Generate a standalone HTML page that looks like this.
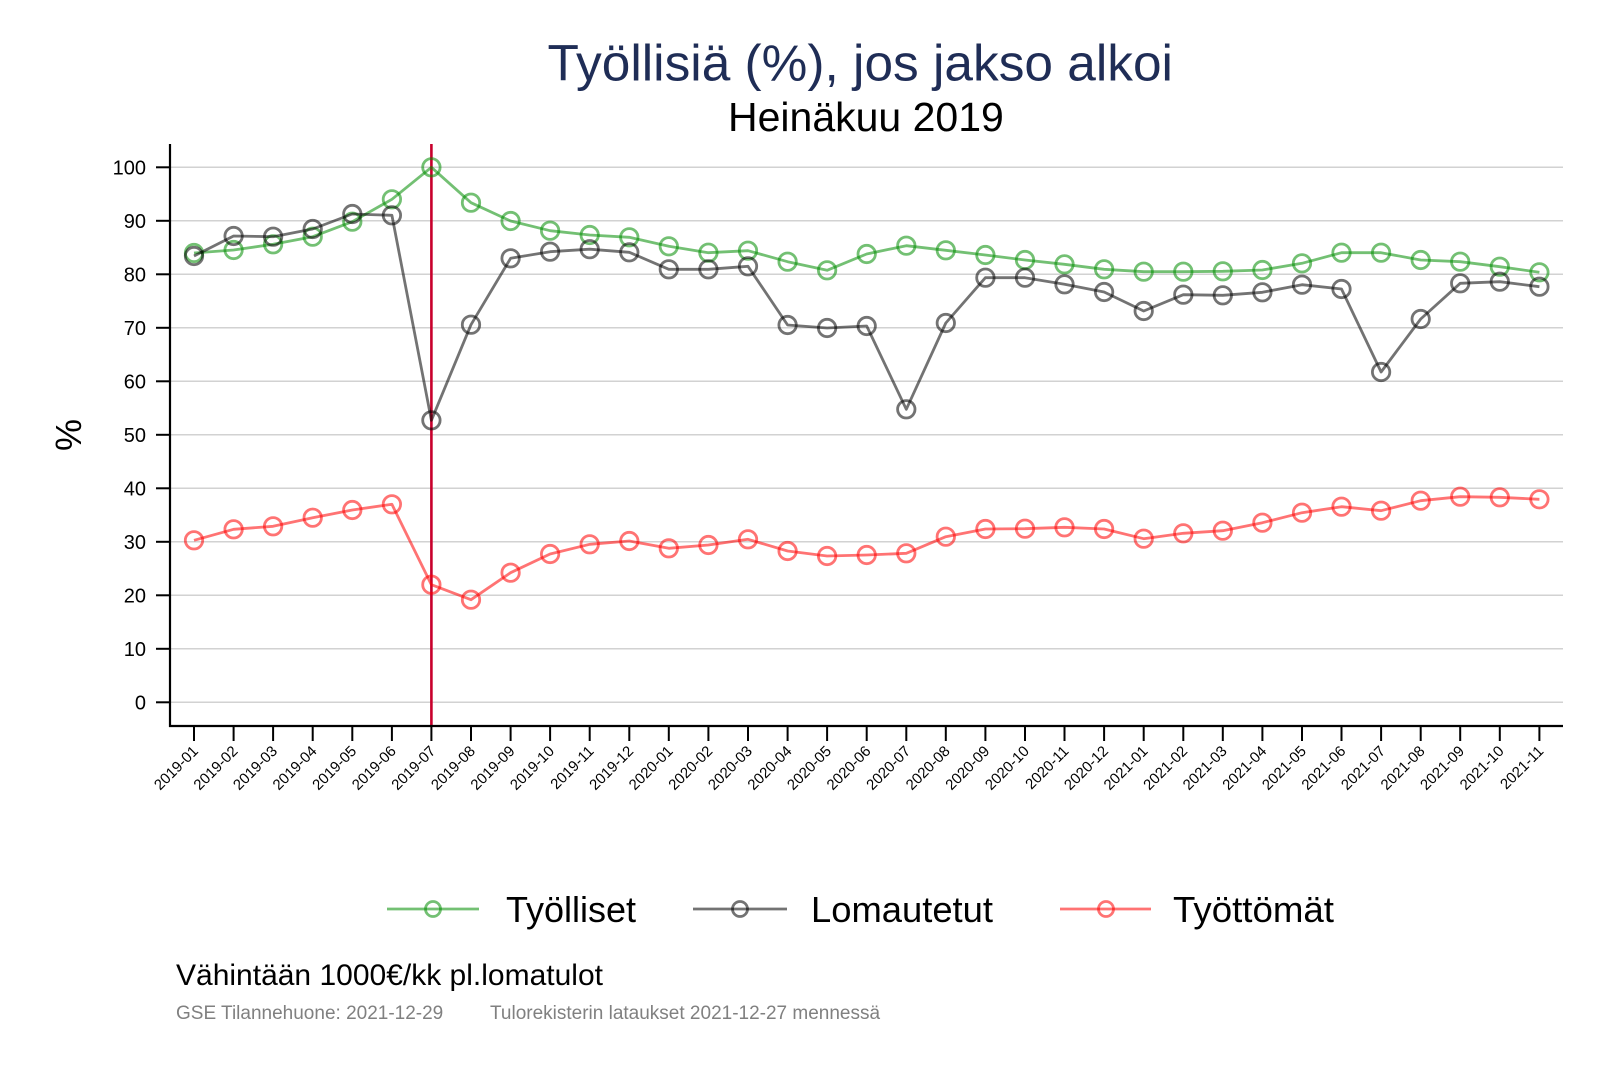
<!DOCTYPE html>
<html><head><meta charset="utf-8"><style>
html,body{margin:0;padding:0;background:#fff;}
svg{display:block;font-family:"Liberation Sans",Arial,sans-serif;}
</style></head><body>
<svg width="1600" height="1067" viewBox="0 0 1600 1067" xmlns="http://www.w3.org/2000/svg">
<rect width="1600" height="1067" fill="#fff"/>
<text x="547.5" y="80.7" font-size="51.4" fill="#1f2d56">Työllisiä (%), jos jakso alkoi</text>
<text x="728" y="131" font-size="41" fill="#000">Heinäkuu 2019</text>
<g stroke="#d2d2d2" stroke-width="1.5">
<line x1="170" x2="1563" y1="702.3" y2="702.3"/><line x1="170" x2="1563" y1="648.8" y2="648.8"/><line x1="170" x2="1563" y1="595.3" y2="595.3"/><line x1="170" x2="1563" y1="541.8" y2="541.8"/><line x1="170" x2="1563" y1="488.3" y2="488.3"/><line x1="170" x2="1563" y1="434.8" y2="434.8"/><line x1="170" x2="1563" y1="381.3" y2="381.3"/><line x1="170" x2="1563" y1="327.8" y2="327.8"/><line x1="170" x2="1563" y1="274.3" y2="274.3"/><line x1="170" x2="1563" y1="220.8" y2="220.8"/><line x1="170" x2="1563" y1="167.3" y2="167.3"/>
</g>
<g stroke="#000" stroke-width="2">
<line x1="156" x2="170" y1="702.3" y2="702.3"/><line x1="156" x2="170" y1="648.8" y2="648.8"/><line x1="156" x2="170" y1="595.3" y2="595.3"/><line x1="156" x2="170" y1="541.8" y2="541.8"/><line x1="156" x2="170" y1="488.3" y2="488.3"/><line x1="156" x2="170" y1="434.8" y2="434.8"/><line x1="156" x2="170" y1="381.3" y2="381.3"/><line x1="156" x2="170" y1="327.8" y2="327.8"/><line x1="156" x2="170" y1="274.3" y2="274.3"/><line x1="156" x2="170" y1="220.8" y2="220.8"/><line x1="156" x2="170" y1="167.3" y2="167.3"/>
</g>
<g font-size="20" text-anchor="end" fill="#000">
<text x="146" y="709.5">0</text><text x="146" y="656">10</text><text x="146" y="602.5">20</text><text x="146" y="549">30</text><text x="146" y="495.5">40</text><text x="146" y="442">50</text><text x="146" y="388.5">60</text><text x="146" y="335">70</text><text x="146" y="281.5">80</text><text x="146" y="228">90</text><text x="146" y="174.5">100</text>
</g>
<text transform="translate(81,435) rotate(-90)" font-size="36" text-anchor="middle" fill="#000">%</text>
<line x1="431.4" x2="431.4" y1="144" y2="726" stroke="#c8002c" stroke-width="2.6"/>
<!-- series -->
<g fill="none" stroke-width="2.8" stroke-linejoin="round">
<g stroke="rgb(0,140,0)" stroke-opacity="0.55">
<polyline points="194.0,253 233.6,250 273.1,244.3 312.7,236.7 352.3,221.7 391.9,199.3 431.4,167.3 471.0,202.7 510.6,221 550.1,230.7 589.7,235 629.3,237.3 668.8,246.3 708.4,252.7 748.0,250.7 787.6,261.7 827.1,270.3 866.7,254 906.3,245.7 945.8,250.3 985.4,255 1025.0,260 1064.5,264.3 1104.1,269.3 1143.7,271.7 1183.3,271.7 1222.8,271.3 1262.4,270 1302.0,263.3 1341.5,252.7 1381.1,252.7 1420.7,260 1460.2,261.7 1499.8,266.7 1539.4,272.3"/>
<circle cx="194.0" cy="253" r="8.7"/><circle cx="233.6" cy="250" r="8.7"/><circle cx="273.1" cy="244.3" r="8.7"/><circle cx="312.7" cy="236.7" r="8.7"/><circle cx="352.3" cy="221.7" r="8.7"/><circle cx="391.9" cy="199.3" r="8.7"/><circle cx="431.4" cy="167.3" r="8.7"/><circle cx="471.0" cy="202.7" r="8.7"/><circle cx="510.6" cy="221" r="8.7"/><circle cx="550.1" cy="230.7" r="8.7"/><circle cx="589.7" cy="235" r="8.7"/><circle cx="629.3" cy="237.3" r="8.7"/><circle cx="668.8" cy="246.3" r="8.7"/><circle cx="708.4" cy="252.7" r="8.7"/><circle cx="748.0" cy="250.7" r="8.7"/><circle cx="787.6" cy="261.7" r="8.7"/><circle cx="827.1" cy="270.3" r="8.7"/><circle cx="866.7" cy="254" r="8.7"/><circle cx="906.3" cy="245.7" r="8.7"/><circle cx="945.8" cy="250.3" r="8.7"/><circle cx="985.4" cy="255" r="8.7"/><circle cx="1025.0" cy="260" r="8.7"/><circle cx="1064.5" cy="264.3" r="8.7"/><circle cx="1104.1" cy="269.3" r="8.7"/><circle cx="1143.7" cy="271.7" r="8.7"/><circle cx="1183.3" cy="271.7" r="8.7"/><circle cx="1222.8" cy="271.3" r="8.7"/><circle cx="1262.4" cy="270" r="8.7"/><circle cx="1302.0" cy="263.3" r="8.7"/><circle cx="1341.5" cy="252.7" r="8.7"/><circle cx="1381.1" cy="252.7" r="8.7"/><circle cx="1420.7" cy="260" r="8.7"/><circle cx="1460.2" cy="261.7" r="8.7"/><circle cx="1499.8" cy="266.7" r="8.7"/><circle cx="1539.4" cy="272.3" r="8.7"/>
</g>
<g stroke="rgb(0,0,0)" stroke-opacity="0.55">
<polyline points="194.0,256 233.6,236 273.1,236.7 312.7,229 352.3,214 391.9,215.3 431.4,420.3 471.0,324.7 510.6,258.3 550.1,251.7 589.7,249.2 629.3,252.3 668.8,269.3 708.4,269.3 748.0,266.3 787.6,325 827.1,328 866.7,326 906.3,409.3 945.8,323 985.4,277.7 1025.0,277.7 1064.5,284.3 1104.1,292 1143.7,311 1183.3,294.7 1222.8,295.3 1262.4,292.3 1302.0,284.7 1341.5,289 1381.1,372 1420.7,319 1460.2,283.3 1499.8,281.7 1539.4,286.7"/>
<circle cx="194.0" cy="256" r="8.7"/><circle cx="233.6" cy="236" r="8.7"/><circle cx="273.1" cy="236.7" r="8.7"/><circle cx="312.7" cy="229" r="8.7"/><circle cx="352.3" cy="214" r="8.7"/><circle cx="391.9" cy="215.3" r="8.7"/><circle cx="431.4" cy="420.3" r="8.7"/><circle cx="471.0" cy="324.7" r="8.7"/><circle cx="510.6" cy="258.3" r="8.7"/><circle cx="550.1" cy="251.7" r="8.7"/><circle cx="589.7" cy="249.2" r="8.7"/><circle cx="629.3" cy="252.3" r="8.7"/><circle cx="668.8" cy="269.3" r="8.7"/><circle cx="708.4" cy="269.3" r="8.7"/><circle cx="748.0" cy="266.3" r="8.7"/><circle cx="787.6" cy="325" r="8.7"/><circle cx="827.1" cy="328" r="8.7"/><circle cx="866.7" cy="326" r="8.7"/><circle cx="906.3" cy="409.3" r="8.7"/><circle cx="945.8" cy="323" r="8.7"/><circle cx="985.4" cy="277.7" r="8.7"/><circle cx="1025.0" cy="277.7" r="8.7"/><circle cx="1064.5" cy="284.3" r="8.7"/><circle cx="1104.1" cy="292" r="8.7"/><circle cx="1143.7" cy="311" r="8.7"/><circle cx="1183.3" cy="294.7" r="8.7"/><circle cx="1222.8" cy="295.3" r="8.7"/><circle cx="1262.4" cy="292.3" r="8.7"/><circle cx="1302.0" cy="284.7" r="8.7"/><circle cx="1341.5" cy="289" r="8.7"/><circle cx="1381.1" cy="372" r="8.7"/><circle cx="1420.7" cy="319" r="8.7"/><circle cx="1460.2" cy="283.3" r="8.7"/><circle cx="1499.8" cy="281.7" r="8.7"/><circle cx="1539.4" cy="286.7" r="8.7"/>
</g>
<g stroke="rgb(255,0,0)" stroke-opacity="0.55">
<polyline points="194.0,540.3 233.6,529.3 273.1,526.3 312.7,517.7 352.3,510 391.9,504.3 431.4,584.7 471.0,599.7 510.6,572.7 550.1,554 589.7,544.3 629.3,541 668.8,548.3 708.4,545 748.0,539.3 787.6,551 827.1,556 866.7,555 906.3,553.3 945.8,536.7 985.4,529 1025.0,528.7 1064.5,527.3 1104.1,529 1143.7,538.7 1183.3,533.3 1222.8,530.7 1262.4,522.7 1302.0,512.7 1341.5,506.7 1381.1,510.7 1420.7,500.7 1460.2,496.7 1499.8,497.3 1539.4,499.3"/>
<circle cx="194.0" cy="540.3" r="8.7"/><circle cx="233.6" cy="529.3" r="8.7"/><circle cx="273.1" cy="526.3" r="8.7"/><circle cx="312.7" cy="517.7" r="8.7"/><circle cx="352.3" cy="510" r="8.7"/><circle cx="391.9" cy="504.3" r="8.7"/><circle cx="431.4" cy="584.7" r="8.7"/><circle cx="471.0" cy="599.7" r="8.7"/><circle cx="510.6" cy="572.7" r="8.7"/><circle cx="550.1" cy="554" r="8.7"/><circle cx="589.7" cy="544.3" r="8.7"/><circle cx="629.3" cy="541" r="8.7"/><circle cx="668.8" cy="548.3" r="8.7"/><circle cx="708.4" cy="545" r="8.7"/><circle cx="748.0" cy="539.3" r="8.7"/><circle cx="787.6" cy="551" r="8.7"/><circle cx="827.1" cy="556" r="8.7"/><circle cx="866.7" cy="555" r="8.7"/><circle cx="906.3" cy="553.3" r="8.7"/><circle cx="945.8" cy="536.7" r="8.7"/><circle cx="985.4" cy="529" r="8.7"/><circle cx="1025.0" cy="528.7" r="8.7"/><circle cx="1064.5" cy="527.3" r="8.7"/><circle cx="1104.1" cy="529" r="8.7"/><circle cx="1143.7" cy="538.7" r="8.7"/><circle cx="1183.3" cy="533.3" r="8.7"/><circle cx="1222.8" cy="530.7" r="8.7"/><circle cx="1262.4" cy="522.7" r="8.7"/><circle cx="1302.0" cy="512.7" r="8.7"/><circle cx="1341.5" cy="506.7" r="8.7"/><circle cx="1381.1" cy="510.7" r="8.7"/><circle cx="1420.7" cy="500.7" r="8.7"/><circle cx="1460.2" cy="496.7" r="8.7"/><circle cx="1499.8" cy="497.3" r="8.7"/><circle cx="1539.4" cy="499.3" r="8.7"/>
</g>
</g>
<!-- axes -->
<line x1="170" x2="170" y1="144" y2="727" stroke="#000" stroke-width="2.2"/>
<line x1="169" x2="1563" y1="726" y2="726" stroke="#000" stroke-width="2.2"/>
<g stroke="#000" stroke-width="2">
<line x1="194.0" x2="194.0" y1="726" y2="741"/><line x1="233.6" x2="233.6" y1="726" y2="741"/><line x1="273.1" x2="273.1" y1="726" y2="741"/><line x1="312.7" x2="312.7" y1="726" y2="741"/><line x1="352.3" x2="352.3" y1="726" y2="741"/><line x1="391.9" x2="391.9" y1="726" y2="741"/><line x1="431.4" x2="431.4" y1="726" y2="741"/><line x1="471.0" x2="471.0" y1="726" y2="741"/><line x1="510.6" x2="510.6" y1="726" y2="741"/><line x1="550.1" x2="550.1" y1="726" y2="741"/><line x1="589.7" x2="589.7" y1="726" y2="741"/><line x1="629.3" x2="629.3" y1="726" y2="741"/><line x1="668.8" x2="668.8" y1="726" y2="741"/><line x1="708.4" x2="708.4" y1="726" y2="741"/><line x1="748.0" x2="748.0" y1="726" y2="741"/><line x1="787.6" x2="787.6" y1="726" y2="741"/><line x1="827.1" x2="827.1" y1="726" y2="741"/><line x1="866.7" x2="866.7" y1="726" y2="741"/><line x1="906.3" x2="906.3" y1="726" y2="741"/><line x1="945.8" x2="945.8" y1="726" y2="741"/><line x1="985.4" x2="985.4" y1="726" y2="741"/><line x1="1025.0" x2="1025.0" y1="726" y2="741"/><line x1="1064.5" x2="1064.5" y1="726" y2="741"/><line x1="1104.1" x2="1104.1" y1="726" y2="741"/><line x1="1143.7" x2="1143.7" y1="726" y2="741"/><line x1="1183.3" x2="1183.3" y1="726" y2="741"/><line x1="1222.8" x2="1222.8" y1="726" y2="741"/><line x1="1262.4" x2="1262.4" y1="726" y2="741"/><line x1="1302.0" x2="1302.0" y1="726" y2="741"/><line x1="1341.5" x2="1341.5" y1="726" y2="741"/><line x1="1381.1" x2="1381.1" y1="726" y2="741"/><line x1="1420.7" x2="1420.7" y1="726" y2="741"/><line x1="1460.2" x2="1460.2" y1="726" y2="741"/><line x1="1499.8" x2="1499.8" y1="726" y2="741"/><line x1="1539.4" x2="1539.4" y1="726" y2="741"/>
</g>
<g font-size="15" text-anchor="end" fill="#000">
<text transform="translate(199,752) rotate(-45)">2019-01</text>
<text transform="translate(238.6,752) rotate(-45)">2019-02</text>
<text transform="translate(278.1,752) rotate(-45)">2019-03</text>
<text transform="translate(317.7,752) rotate(-45)">2019-04</text>
<text transform="translate(357.3,752) rotate(-45)">2019-05</text>
<text transform="translate(396.9,752) rotate(-45)">2019-06</text>
<text transform="translate(436.4,752) rotate(-45)">2019-07</text>
<text transform="translate(476.0,752) rotate(-45)">2019-08</text>
<text transform="translate(515.6,752) rotate(-45)">2019-09</text>
<text transform="translate(555.1,752) rotate(-45)">2019-10</text>
<text transform="translate(594.7,752) rotate(-45)">2019-11</text>
<text transform="translate(634.3,752) rotate(-45)">2019-12</text>
<text transform="translate(673.8,752) rotate(-45)">2020-01</text>
<text transform="translate(713.4,752) rotate(-45)">2020-02</text>
<text transform="translate(753.0,752) rotate(-45)">2020-03</text>
<text transform="translate(792.6,752) rotate(-45)">2020-04</text>
<text transform="translate(832.1,752) rotate(-45)">2020-05</text>
<text transform="translate(871.7,752) rotate(-45)">2020-06</text>
<text transform="translate(911.3,752) rotate(-45)">2020-07</text>
<text transform="translate(950.8,752) rotate(-45)">2020-08</text>
<text transform="translate(990.4,752) rotate(-45)">2020-09</text>
<text transform="translate(1030.0,752) rotate(-45)">2020-10</text>
<text transform="translate(1069.5,752) rotate(-45)">2020-11</text>
<text transform="translate(1109.1,752) rotate(-45)">2020-12</text>
<text transform="translate(1148.7,752) rotate(-45)">2021-01</text>
<text transform="translate(1188.3,752) rotate(-45)">2021-02</text>
<text transform="translate(1227.8,752) rotate(-45)">2021-03</text>
<text transform="translate(1267.4,752) rotate(-45)">2021-04</text>
<text transform="translate(1307.0,752) rotate(-45)">2021-05</text>
<text transform="translate(1346.5,752) rotate(-45)">2021-06</text>
<text transform="translate(1386.1,752) rotate(-45)">2021-07</text>
<text transform="translate(1425.7,752) rotate(-45)">2021-08</text>
<text transform="translate(1465.2,752) rotate(-45)">2021-09</text>
<text transform="translate(1504.8,752) rotate(-45)">2021-10</text>
<text transform="translate(1544.4,752) rotate(-45)">2021-11</text>
</g>
<!-- legend -->
<g fill="none" stroke-width="2.8">
<g stroke="rgb(0,140,0)" stroke-opacity="0.55"><line x1="387" x2="479" y1="909" y2="909"/><circle cx="433" cy="909" r="7.5"/></g>
<g stroke="rgb(0,0,0)" stroke-opacity="0.55"><line x1="693" x2="787" y1="909" y2="909"/><circle cx="740" cy="909" r="7.5"/></g>
<g stroke="rgb(255,0,0)" stroke-opacity="0.55"><line x1="1060" x2="1151" y1="909" y2="909"/><circle cx="1106" cy="909" r="7.5"/></g>
</g>
<g font-size="36" fill="#000">
<text x="506" y="922">Työlliset</text>
<text x="811" y="922" textLength="182" lengthAdjust="spacingAndGlyphs">Lomautetut</text>
<text x="1173" y="922" textLength="161" lengthAdjust="spacingAndGlyphs">Työttömät</text>
</g>
<text x="176" y="985" font-size="30" fill="#000">Vähintään 1000€/kk pl.lomatulot</text>
<text x="176" y="1019" font-size="19" fill="#808080">GSE Tilannehuone: 2021-12-29</text>
<text x="490" y="1019" font-size="19" fill="#808080">Tulorekisterin lataukset 2021-12-27 mennessä</text>
</svg>
</body></html>
